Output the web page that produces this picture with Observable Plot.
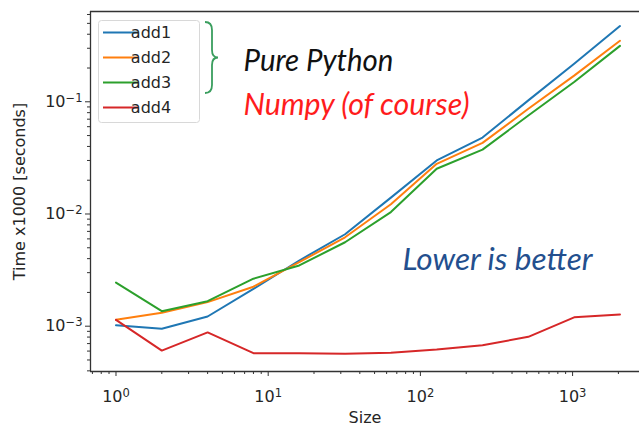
<!DOCTYPE html>
<html><head><meta charset="utf-8">
<script src="https://cdn.jsdelivr.net/npm/d3@7"></script>
<script src="https://cdn.jsdelivr.net/npm/@observablehq/plot@0.6"></script>
<style>body{margin:0;background:#fff} #chart{width:639px;height:428px;position:relative;overflow:hidden}</style>
</head><body><div id="chart"></div>
<script>
const series = ["add1", "add2", "add3", "add4"];
const sizes = [1, 2, 4, 8, 16, 32, 64, 128, 256, 512, 1024, 2048];
const add1 = [1.02e-3, 0.95e-3, 1.22e-3, 2.15e-3, 3.85e-3, 6.6e-3, 1.40e-2, 3.0e-2, 4.8e-2, 0.103, 0.218, 0.473];
const add2 = [1.14e-3, 1.32e-3, 1.64e-3, 2.25e-3, 3.72e-3, 6.2e-3, 1.22e-2, 2.8e-2, 4.3e-2, 0.0866, 0.171, 0.35];
const add3 = [2.45e-3, 1.36e-3, 1.67e-3, 2.65e-3, 3.48e-3, 5.6e-3, 1.04e-2, 2.53e-2, 3.75e-2, 0.0755, 0.15, 0.315];
const add4 = [1.14e-3, 6.06e-4, 8.8e-4, 5.75e-4, 5.75e-4, 5.68e-4, 5.8e-4, 6.2e-4, 6.77e-4, 8.04e-4, 1.2e-3, 1.27e-3];
const xTicks = [1, 10, 100, 1000];
const xTickLabels = ["10^0", "10^1", "10^2", "10^3"];
const yTicks = [1e-3, 1e-2, 1e-1];
const yTickLabels = ["10^-3", "10^-2", "10^-1"];

const colors = ["#1f77b4", "#ff7f0e", "#2ca02c", "#d62728"];
const xDomain = [0.680, 2752];
const yDomain = [3.947e-4, 0.6379];

const values = [add1, add2, add3, add4];
const table = series.flatMap((name, i) => sizes.map((s, j) => ({size: s, time: values[i][j], series: name})));

function minorTicks(domain) {
  const out = [];
  for (let e = -5; e <= 4; e++) for (let m = 2; m <= 9; m++) {
    const v = m * Math.pow(10, e);
    if (v >= domain[0] && v <= domain[1]) out.push(v);
  }
  return out;
}

const axisStroke = "#333";
const textFill = "#262626";

const svg = Plot.plot({
  width: 639, height: 428,
  marginLeft: 90, marginRight: 0, marginTop: 11, marginBottom: 57,
  style: {fontFamily: "DejaVu Sans", fontSize: "16px", color: textFill, background: "white"},
  x: {type: "log", domain: xDomain},
  y: {type: "log", domain: yDomain},
  color: {domain: series, range: colors},
  marks: [
    Plot.lineY(table, {x: "size", y: "time", stroke: "series", strokeWidth: 2, z: "series"}),
    Plot.axisX(minorTicks(xDomain), {tickSize: 3, tickFormat: () => "", stroke: axisStroke, label: null}),
    Plot.axisX(xTicks, {tickSize: 5, tickPadding: 14, stroke: axisStroke, fill: textFill,
      tickFormat: d => xTickLabels[xTicks.indexOf(d)],
      label: "Size", labelAnchor: "center", labelOffset: 51, labelArrow: "none"}),
    Plot.axisY(minorTicks(yDomain), {tickSize: 3, tickFormat: () => "", stroke: axisStroke, label: null}),
    Plot.axisY(yTicks, {tickSize: 5, tickPadding: 3, stroke: axisStroke, fill: textFill,
      tickFormat: d => yTickLabels[yTicks.indexOf(d)],
      label: "Time x1000 [seconds]", labelAnchor: "center", labelOffset: 77, labelArrow: "none"}),
    Plot.ruleX([xDomain[0]], {stroke: axisStroke, strokeWidth: 1.3}),
    Plot.ruleY([yDomain[0]], {stroke: axisStroke, strokeWidth: 1.3}),
    Plot.ruleY([yDomain[1]], {stroke: axisStroke, strokeWidth: 1.3}),
    Plot.text(["Pure Python"], {x: 6.88, y: 0.190, text: d => d, textAnchor: "start", lineAnchor: "bottom",
      fill: "#111", fontSize: 30, fontStyle: "italic", fontFamily: "Lato"}),
    Plot.text(["Numpy (of course)"], {x: 6.88, y: 0.0755, text: d => d, textAnchor: "start", lineAnchor: "bottom",
      fill: "#ff1c1c", fontSize: 30, fontStyle: "italic", fontFamily: "Lato"}),
    Plot.text(["Lower is better"], {x: 76.3, y: 0.0032, text: d => d, textAnchor: "start", lineAnchor: "bottom",
      fill: "#234f8e", fontSize: 30, fontStyle: "italic", fontFamily: "Lato"})
  ]
});

const ns = "http://www.w3.org/2000/svg";
// superscript tick labels
svg.querySelectorAll('g[aria-label$="tick label"] text').forEach(t => {
  const m = t.textContent.match(/^(\d+)\^(.+)$/);
  if (!m) return;
  t.textContent = m[1];
  const ts = document.createElementNS(ns, "tspan");
  ts.setAttribute("dy", "-0.45em");
  ts.setAttribute("font-size", "72%");
  ts.textContent = m[2].replace("-", "\u2212");
  t.appendChild(ts);
});
// fit annotation widths
const widths = {"Pure Python": 150, "Numpy (of course)": 226, "Lower is better": 190};
svg.querySelectorAll("text").forEach(t => {
  const w = widths[t.textContent];
  if (w) { t.setAttribute("textLength", w); t.setAttribute("lengthAdjust", "spacingAndGlyphs"); }
});

const root = d3.select(svg);
// brace
root.append("path")
  .attr("d", "M205,22 Q212,22 212,30 L212,50 Q212,57.5 218,57.5 Q212,57.5 212,65 L212,85 Q212,93 205,93")
  .attr("fill", "none").attr("stroke", "#3a9e5e").attr("stroke-width", 1.8);
// legend
const lg = root.append("g");
lg.append("rect").attr("x", 98.5).attr("y", 20.5).attr("width", 101).attr("height", 102).attr("rx", 3)
  .attr("fill", "white").attr("fill-opacity", 0.8).attr("stroke", "#d8d8d8");
series.forEach((name, i) => {
  const cy = 32.5 + i * 25;
  lg.append("line").attr("x1", 103).attr("x2", 138).attr("y1", cy).attr("y2", cy)
    .attr("stroke", colors[i]).attr("stroke-width", 2.2);
  lg.append("text").attr("x", 151).attr("y", cy).attr("dy", "0.35em")
    .attr("fill", textFill).attr("font-family", "DejaVu Sans").attr("font-size", 16).text(name);
});

document.getElementById("chart").appendChild(svg);
</script>
</body></html>
